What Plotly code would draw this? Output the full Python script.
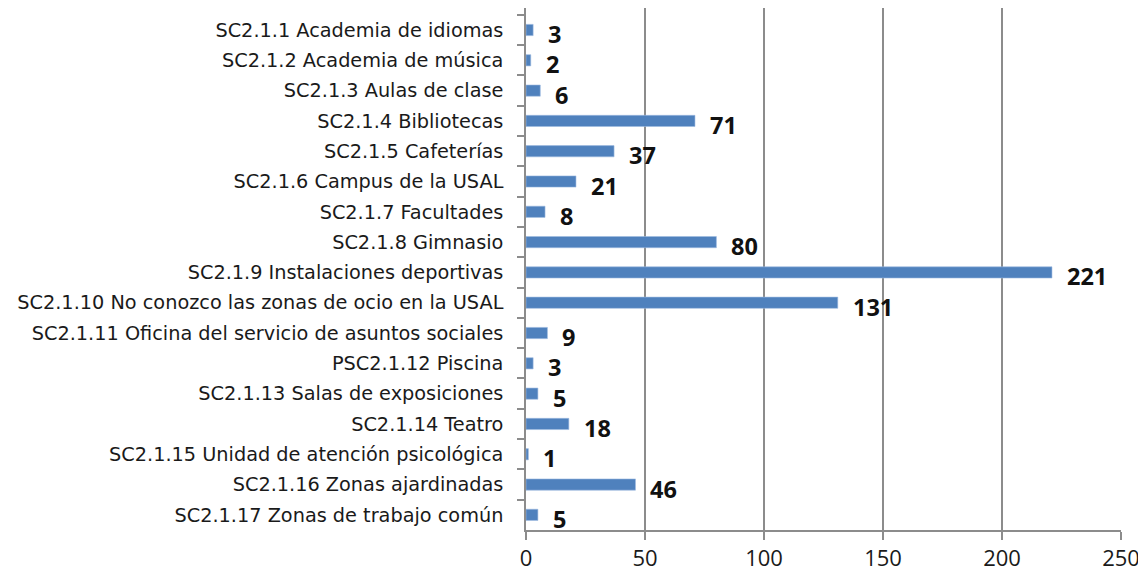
import plotly.graph_objects as go

categories = [
    "SC2.1.1 Academia de idiomas",
    "SC2.1.2 Academia de música",
    "SC2.1.3 Aulas de clase",
    "SC2.1.4 Bibliotecas",
    "SC2.1.5 Cafeterías",
    "SC2.1.6 Campus de la USAL",
    "SC2.1.7 Facultades",
    "SC2.1.8 Gimnasio",
    "SC2.1.9 Instalaciones deportivas",
    "SC2.1.10 No conozco las zonas de ocio en la USAL",
    "SC2.1.11 Oficina del servicio de asuntos sociales",
    "PSC2.1.12 Piscina",
    "SC2.1.13 Salas de exposiciones",
    "SC2.1.14 Teatro",
    "SC2.1.15 Unidad de atención psicológica",
    "SC2.1.16 Zonas ajardinadas",
    "SC2.1.17 Zonas de trabajo común",
]
values = [3, 2, 6, 71, 37, 21, 8, 80, 221, 131, 9, 3, 5, 18, 1, 46, 5]
x_ticks = [0, 50, 100, 150, 200, 250]

FONT = "Open Sans"
LABEL_FONT = "DejaVu Sans"
TEXT = "#1a1a1a"
GRID = "#8c8c8c"

fig = go.Figure(go.Bar(
    x=values,
    y=categories,
    orientation="h",
    width=0.37,
    marker=dict(color="#4f81bd", line=dict(color="#9dbbe0", width=0.6)),
    hoverinfo="x+y",
))

# bold value labels, a bit right of and below each bar end
annotations = [
    dict(x=v, y=c, text=f"<b>{v}</b>", showarrow=False, xanchor="left",
         xshift=13, yshift=-4, font=dict(family=FONT, size=23.5, color="#111111"))
    for c, v in zip(categories, values)
]

fig.update_layout(
    width=1146, height=576,
    paper_bgcolor="white", plot_bgcolor="white",
    margin=dict(l=518, r=33, t=0, b=54),
    showlegend=False,
    font=dict(family=FONT, color=TEXT),
    annotations=annotations,
    xaxis=dict(
        range=[0, 250], tickvals=x_ticks, showgrid=True, gridcolor=GRID,
        gridwidth=1.5, zeroline=False, showline=True, linecolor=GRID,
        linewidth=1.5, ticks="outside", ticklen=8, tickcolor=GRID, tickwidth=1.5,
        tickfont=dict(size=22, color=TEXT), ticklabelstandoff=0,
        fixedrange=True,
    ),
    yaxis=dict(
        autorange="reversed", showgrid=False, showline=True, linecolor=GRID,
        linewidth=1.5, ticks="outside", tickson="boundaries", ticklen=7,
        tickcolor=GRID, tickwidth=1.5,
        tickfont=dict(family=LABEL_FONT, size=19.3, color=TEXT),
        ticklabelstandoff=17, fixedrange=True,
    ),
)

fig.write_html("out.html")
